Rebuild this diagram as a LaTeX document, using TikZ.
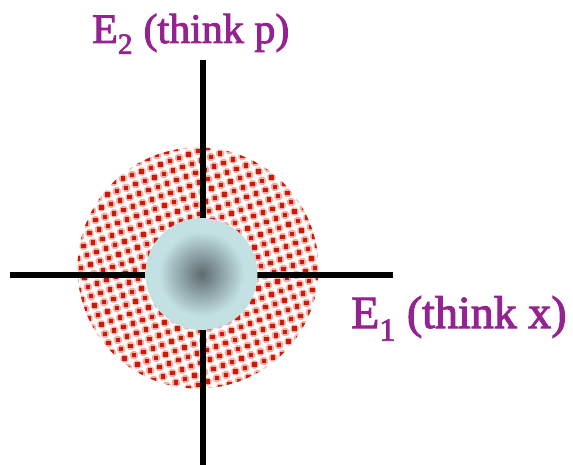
\documentclass[tikz,border=0pt]{standalone}
\usepackage{fontspec}
\setmainfont[FakeBold=2.2]{Liberation Serif}
\usepackage{xcolor}
\usepackage{tikz}
\usetikzlibrary{
  positioning,
  shapes.geometric
}
\definecolor{phLabel}{HTML}{942290}
\definecolor{phDot}{HTML}{D01808}
\definecolor{phHalo}{HTML}{F0B0A6}
\definecolor{phCore}{HTML}{5E6B6F}
\definecolor{phRim}{HTML}{C3E1E3}
\pgfdeclareradialshading{coreshade}{\pgfpoint{0bp}{0bp}}{%
  color(0bp)=(phCore); color(19bp)=(phRim); color(25bp)=(phRim); color(50bp)=(phRim)}
\tikzset{
  axisline/.style={line width=5.5pt, black},
  axislabel/.style={text=phLabel, font=\fontsize{42}{48}\selectfont, anchor=base west, inner sep=0pt},
  dothalo/.style={fill=phHalo},
  dotcore/.style={fill=phDot},
  cloud/.style={circle, minimum size=241pt, inner sep=0pt},
  core/.style={circle, minimum size=112pt, inner sep=0pt, shading=coreshade}
}

\begin{document}
\begin{tikzpicture}[x=1pt, y=-1pt]
  \useasboundingbox (0,0) rectangle (573,465);
  % spread of the state
  \node[cloud] (spread) at (198,268) {};
  \begin{scope}
    \clip (spread.center) circle[radius=120.5];
    \begin{scope}[shift={(spread.center)}, rotate=20]
      \foreach \i in {-14,...,14}{
        \foreach \j in {-14,...,14}{
          \fill[dothalo] (\i*10,\j*10) circle[radius=4.4];
          \fill[dotcore, rotate around={-20:(\i*10,\j*10)}] (\i*10-2.2,\j*10-2.2) rectangle ++(4.4,4.4);
        }
      }
    \end{scope}
  \end{scope}
  % axes
  \coordinate (ytop) at (203,60);
  \coordinate (ybot) at (203,466);
  \coordinate (xleft) at (10,275);
  \coordinate (xright) at (393,275);
  \draw[axisline] (ytop) -- (ybot);
  \draw[axisline] (xleft) -- (xright);
  % centre
  \node[core] (centre) at (201.5,274) {};
  \node[axislabel] (etwo) at (92,43) {E\textsubscript{2} (think p)};
  \node[axislabel, font=\fontsize{46}{52}\selectfont] (eone) at (351,328) {E\textsubscript{1}\hspace{11pt}(think x)};
\end{tikzpicture}
\end{document}
